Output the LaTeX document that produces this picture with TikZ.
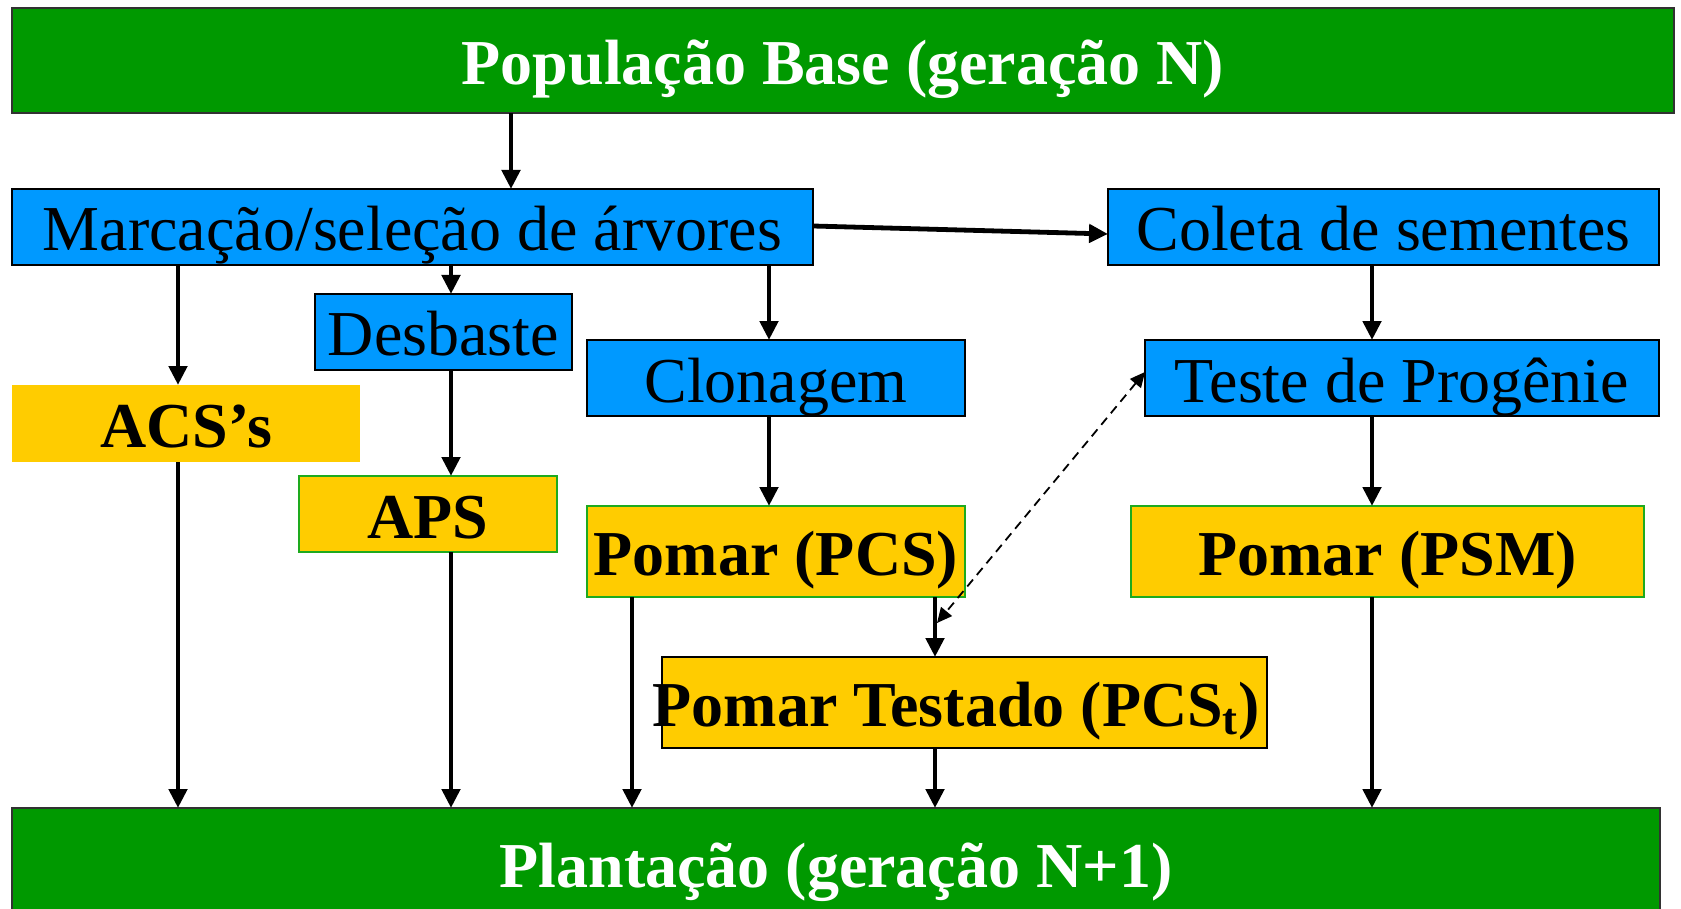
\documentclass[tikz,border=0pt]{standalone}
\usepackage{fontspec}
\setmainfont{Liberation Serif}
\usetikzlibrary{arrows.meta}
\definecolor{gfill}{RGB}{0,153,0}
\definecolor{bfill}{RGB}{0,153,255}
\definecolor{yfill}{RGB}{255,204,0}
\definecolor{gline}{RGB}{30,170,30}
\begin{document}
\begin{tikzpicture}[x=0.5pt,y=-0.5pt,
  base/.style={rectangle, inner sep=0pt, outer sep=0pt, font=\fontsize{32}{38}\selectfont, text height=24pt, text depth=0pt},
  greenbox/.style={base, fill=gfill, draw={rgb,255:red,50;green,50;blue,50}, line width=1pt, text=white, font=\fontsize{32}{38}\selectfont\bfseries},
  bluebox/.style={base, fill=bfill, draw=black, line width=0.8pt},
  ybox/.style={base, fill=yfill, draw=gline, line width=1pt, font=\fontsize{32}{38}\selectfont\bfseries},
  ynobox/.style={base, fill=yfill, font=\fontsize{32}{38}\selectfont\bfseries},
  yblack/.style={base, fill=yfill, draw=black, line width=1pt, font=\fontsize{32}{38}\selectfont\bfseries},
  arr/.style={line width=2.4pt, -{Triangle[length=9.5pt,width=9pt]}},
  darr/.style={line width=0.9pt, dash pattern=on 4.5pt off 3pt, {Triangle[length=7.5pt,width=7pt]}-{Triangle[length=7.5pt,width=7pt]}}
]
\clip (0,0) rectangle (1681,909);
\fill[white] (0,0) rectangle (1681,909);

% nodes
\node[greenbox, minimum width=831pt, minimum height=52.5pt] (top) at (843,60.5) {População Base (geração N)};
\node[bluebox, minimum width=400.5pt, minimum height=38pt] (marc) at (412.5,227) {Marcação/seleção de árvores};
\node[bluebox, minimum width=275.5pt, minimum height=38pt] (coleta) at (1383.5,227) {Coleta de sementes};
\node[bluebox, minimum width=128.5pt, minimum height=38pt] (desb) at (443.5,332) {Desbaste};
\node[bluebox, minimum width=189pt, minimum height=38pt] (clon) at (776,378) {Clonagem};
\node[bluebox, minimum width=257pt, minimum height=38pt] (teste) at (1402,378) {Teste de Progênie};
\node[ynobox, minimum width=174pt, minimum height=38.5pt] (acs) at (186,423.5) {ACS’s};
\node[ybox, minimum width=129pt, minimum height=38pt] (aps) at (428,514) {APS};
\node[ybox, minimum width=189pt, minimum height=45.5pt] (pcs) at (776,551.5) {Pomar (PCS)};
\node[ybox, minimum width=256.5pt, minimum height=45.5pt] (psm) at (1387.5,551.5) {Pomar (PSM)};
\node[yblack, minimum width=302.5pt, minimum height=45.5pt] (pcst) at (964.5,702.5) {\kern-8pt Pomar Testado (PCS\textsubscript{t})};
\node[greenbox, minimum width=824pt, minimum height=55pt] (bot) at (836,863) {Plantação (geração N+1)};

% x positions of connectors
\coordinate (xtop) at (511,0);
\coordinate (xacs) at (178,0);
\coordinate (xdes) at (451,0);
\coordinate (xclo) at (769,0);
\coordinate (xpcs) at (632,0);
\coordinate (xpt) at (935,0);
\coordinate (xpsm) at (1372,0);
\coordinate (dend) at (937,623);

% dashed double arrow
\draw[darr] ([yshift=3pt]teste.west) -- (dend);

% connectors
\draw[arr] (xtop |- top.south) -- (xtop |- marc.north);
\draw[arr] ([yshift=0.5pt]marc.east) -- ([yshift=-3.5pt]coleta.west);
\draw[arr] (xacs |- marc.south) -- (xacs |- acs.north);
\draw[arr] (xdes |- marc.south) -- (xdes |- desb.north);
\draw[arr] (xclo |- marc.south) -- (xclo |- clon.north);
\draw[arr] (xpsm |- coleta.south) -- (xpsm |- teste.north);
\draw[arr] (xdes |- desb.south) -- (xdes |- aps.north);
\draw[arr] (xclo |- clon.south) -- (xclo |- pcs.north);
\draw[arr] (xpsm |- teste.south) -- (xpsm |- psm.north);
\draw[arr] (xpt |- pcs.south) -- (xpt |- pcst.north);
\draw[arr] (xacs |- acs.south) -- (xacs |- bot.north);
\draw[arr] (xdes |- aps.south) -- (xdes |- bot.north);
\draw[arr] (xpcs |- pcs.south) -- (xpcs |- bot.north);
\draw[arr] (xpt |- pcst.south) -- (xpt |- bot.north);
\draw[arr] (xpsm |- psm.south) -- (xpsm |- bot.north);
\end{tikzpicture}
\end{document}
